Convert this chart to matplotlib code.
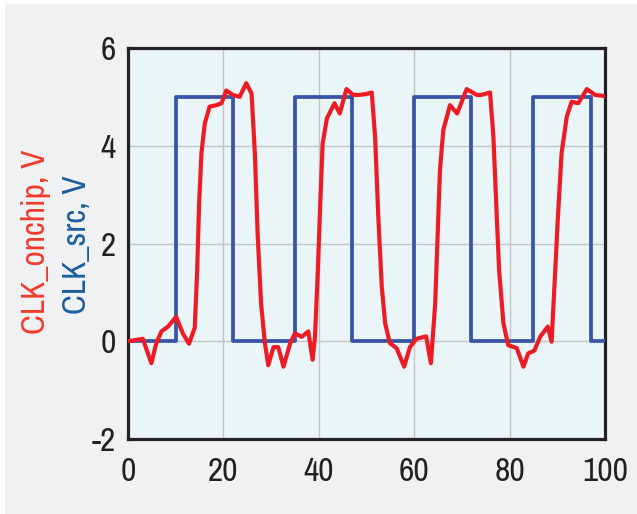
import matplotlib
matplotlib.use("Agg")
import matplotlib.pyplot as plt
from matplotlib.patches import Rectangle
from matplotlib import font_manager

# CLK_src: ideal square wave
src_t = [0, 10, 10, 22, 22, 35, 35, 47, 47, 60, 60, 72, 72, 85, 85, 97, 97, 100]
src_v = [0, 0, 5, 5, 0, 0, 5, 5, 0, 0, 5, 5, 0, 0, 5, 5, 0, 0]

chip_t = [0, 3.1, 4.9, 5.9, 7.0, 8.4, 10.1, 11.5, 12.8, 14.0, 14.5, 14.9, 15.4,
          16.1, 17.1, 18.5, 19.6, 20.6, 22.0, 23.4, 24.8, 25.9, 26.6, 27.2,
          27.9, 28.7, 29.4, 30.5, 31.5, 32.6, 34.0, 35.0, 36.4, 37.8, 38.7,
          39.2, 39.8, 40.3, 40.8, 41.7, 43.3, 44.4, 45.8, 47.2, 48.6, 50.0,
          51.1, 51.8, 52.5, 53.2, 53.9, 54.9, 56.3, 57.9, 59.1, 60.5, 62.5,
          63.5, 64.4, 64.9, 65.4, 66.1, 67.5, 69.0, 71.0, 73.1, 74.1, 75.9,
          76.6, 77.2, 77.8, 78.7, 79.7, 81.5, 82.9, 83.9, 85.2, 86.4, 88.0,
          88.8, 89.4, 90.1, 90.9, 92.0, 93.0, 94.4, 96.2, 97.9, 99.7, 100]
chip_v = [0, 0.05, -0.45, -0.05, 0.2, 0.3, 0.5, 0.16, -0.05, 0.28, 1.45, 2.8,
          3.85, 4.46, 4.8, 4.83, 4.87, 5.13, 5.04, 5.0, 5.28, 5.07, 3.84, 2.14,
          0.77, -0.04, -0.49, -0.12, -0.12, -0.52, -0.04, 0.16, 0.09, 0.2,
          -0.38, 0.09, 1.45, 2.81, 4.04, 4.56, 4.87, 4.66, 5.16, 5.04, 5.04,
          5.06, 5.09, 4.19, 2.49, 1.12, 0.37, -0.04, -0.14, -0.52, -0.12, 0.05,
          0.1, -0.45, 0.77, 2.14, 3.5, 4.32, 4.83, 4.66, 5.16, 5.04, 5.04, 5.09,
          4.19, 2.81, 1.45, 0.37, -0.08, -0.14, -0.52, -0.25, -0.19, 0.09, 0.3,
          -0.01, 1.12, 2.49, 3.85, 4.6, 4.9, 4.87, 5.16, 5.04, 5.02, 5.0]

x_ticks = [0, 20, 40, 60, 80, 100]
y_ticks = [-2, 0, 2, 4, 6]


def pick_condensed_font():
    # look for any narrow / condensed regular face that is installed
    best = None
    for f in font_manager.fontManager.ttflist:
        narrow = ("Narrow" in f.name or "Condensed" in f.name
                  or "Condensed" in f.fname or "Narrow" in f.fname
                  or f.stretch in ("condensed", "semi-condensed", "extra-condensed"))
        if not narrow or f.style != "normal":
            continue
        w = f.weight if isinstance(f.weight, int) else 400
        if w != 400:
            continue
        if best is None or "DejaVu" in best.fname:
            best = f
    return best


cf = pick_condensed_font()
if cf is not None:
    font_manager.fontManager.addfont(cf.fname)
    prop = font_manager.FontProperties(fname=cf.fname)
    plt.rcParams["font.family"] = [prop.get_name(), "DejaVu Sans"]
else:
    prop = font_manager.FontProperties(family="Liberation Sans")
    plt.rcParams["font.family"] = ["Liberation Sans", "DejaVu Sans"]
plt.rcParams["axes.unicode_minus"] = False

fig = plt.figure(figsize=(6.37, 5.14), dpi=100, facecolor="white")
fig.patches.append(Rectangle((5 / 637, 0), 1, 1 - 4 / 514, transform=fig.transFigure,
                             facecolor="#f0f1f3", edgecolor="none", zorder=-10))

ax = fig.add_axes([128 / 637, 1 - 439 / 514, 477 / 637, 391 / 514])
ax.set_facecolor("#eaf5f8")

ax.plot(src_t, src_v, color="#3a55a5", linewidth=2.7, zorder=3)
ax.plot(chip_t, chip_v, color="#ed1c24", linewidth=3.0, zorder=4,
        solid_joinstyle="round", solid_capstyle="round")

ax.set_xlim(0, 100)
ax.set_ylim(-2, 6)
ax.set_xticks(x_ticks)
ax.set_yticks(y_ticks)
ax.tick_params(axis="both", length=0, colors="#222222")
ax.tick_params(axis="x", pad=13)
ax.tick_params(axis="y", pad=9)
for lab in ax.get_xticklabels() + ax.get_yticklabels():
    lab.set_fontproperties(prop)
    lab.set_fontsize(24)
ax.grid(True, color="#c4c4c4", linewidth=1.0)
ax.set_axisbelow(True)
for s in ax.spines.values():
    s.set_color("#222222")
    s.set_linewidth(2.3)

fig.text(36 / 637, 1 - 242 / 514, "CLK_onchip, V", rotation=90, color="#ef3b2c",
         fontproperties=prop, fontsize=24, ha="center", va="center")
fig.text(77 / 637, 1 - 245 / 514, "CLK_src, V", rotation=90, color="#1b5e9c",
         fontproperties=prop, fontsize=24, ha="center", va="center")

fig.savefig("out.png", dpi=100, facecolor=fig.get_facecolor())
